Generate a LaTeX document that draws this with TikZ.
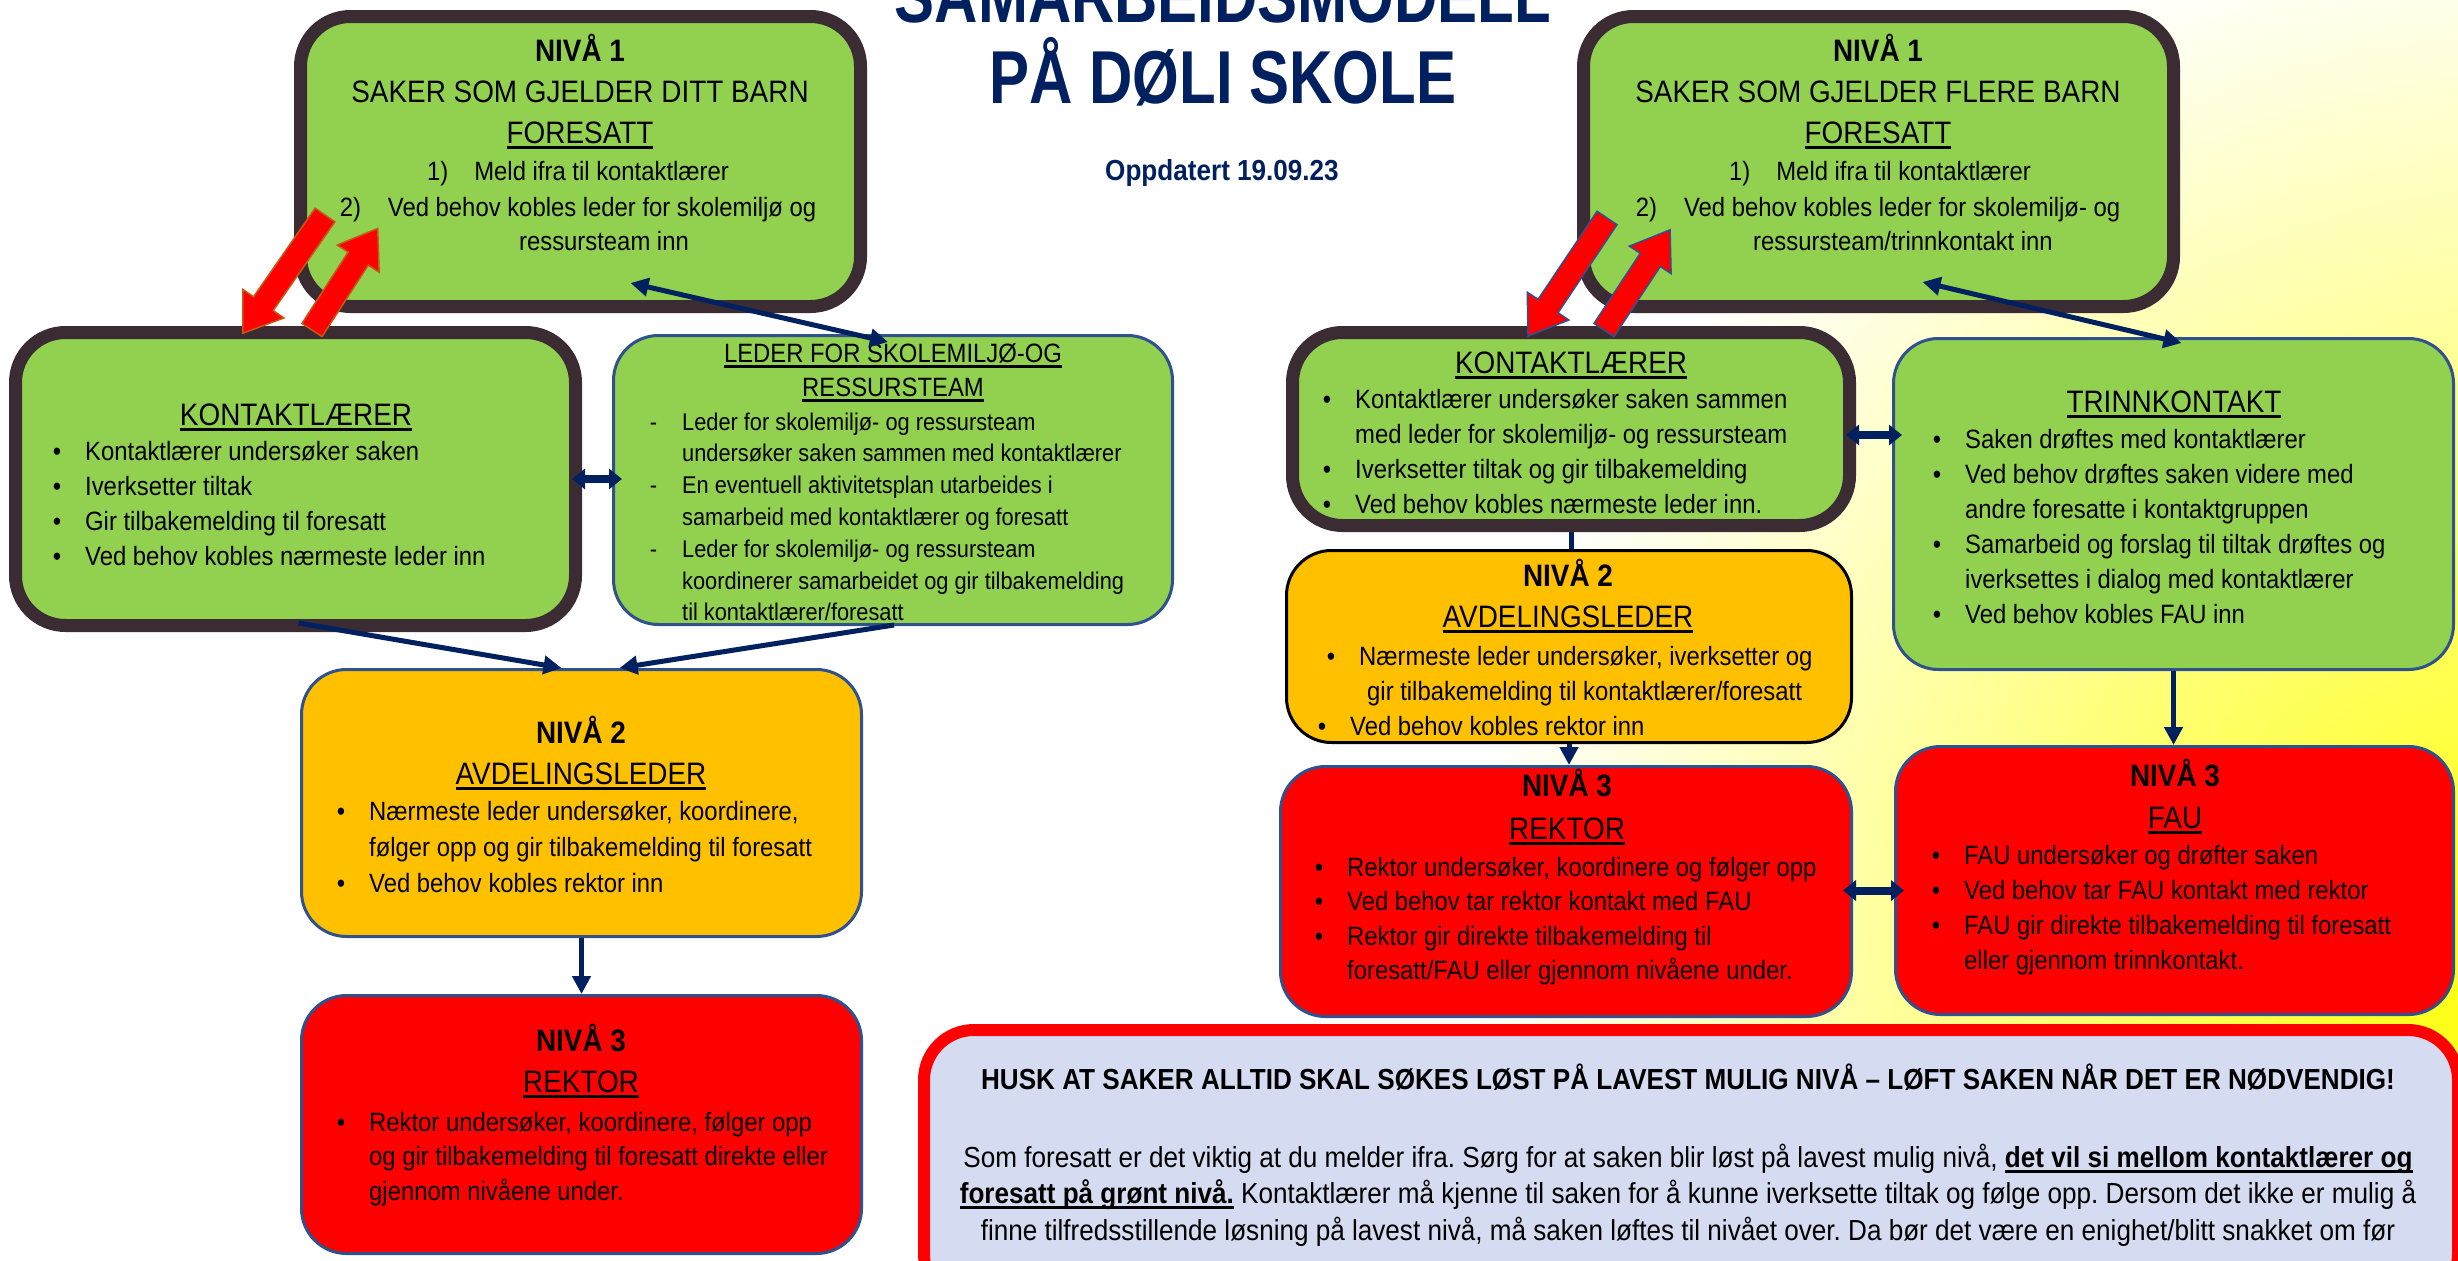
\documentclass[tikz,border=0pt]{standalone}
\usepackage{fontspec}
\setmainfont[FakeStretch=0.9]{Liberation Sans}
\newfontfamily\titlefont[FakeStretch=0.8]{Liberation Sans}
\usetikzlibrary{arrows.meta,calc}
\frenchspacing

\definecolor{boxgreen}{RGB}{146,208,80}
\definecolor{boxorange}{RGB}{255,192,0}
\definecolor{boxred}{RGB}{255,0,0}
\definecolor{darkframe}{RGB}{59,44,52}
\definecolor{blueframe}{RGB}{47,82,143}
\definecolor{navy}{RGB}{0,32,96}
\definecolor{notefill}{RGB}{213,220,241}
\definecolor{rust}{RGB}{197,90,17}

\newcommand{\undl}[1]{\setbox0\hbox{#1}\rlap{\rule[-5.5pt]{\wd0}{2.5pt}}\box0\relax}
\newcommand{\bl}{\llap{\textbullet\hspace{24pt}}}
\newcommand{\dsh}{\llap{-\hspace{25pt}}}
\newcommand{\blockarrow}[4]{%
  \draw[redarrow, #1, shift={(#2)}, rotate=#3] (0,-12) -- ({#4-36},-12) -- ({#4-36},-25) -- (#4,0) -- ({#4-36},25) -- ({#4-36},12) -- (0,12) -- cycle;}

\tikzset{
  thickbox/.style={draw=darkframe, line width=13pt, fill=boxgreen, rounded corners=50pt, inner sep=0pt},
  thinbox/.style={draw=blueframe, line width=3pt, rounded corners=45pt, inner sep=0pt},
  headtxt/.style={font=\fontsize{31}{37}\selectfont, anchor=base, inner sep=0pt},
  boldtxt/.style={font=\fontsize{31}{37}\selectfont\bfseries, anchor=base, inner sep=0pt},
  smallhead/.style={font=\fontsize{26.5}{32}\selectfont, anchor=base, inner sep=0pt},
  bodytxt/.style={font=\fontsize{26.5}{32}\selectfont, anchor=base west, inner sep=0pt},
  notetxt/.style={font=\fontsize{29}{36}\selectfont, anchor=base, inner sep=0pt},
  titletxt/.style={font=\titlefont\fontsize{75}{81}\selectfont\bfseries, text=navy, anchor=base, inner sep=0pt},
  conn/.style={draw=navy, line width=5pt, -{Triangle[length=18pt,width=18pt]}},
  dblconn/.style={draw=navy, line width=8pt, {Triangle[length=13pt,width=20pt]}-{Triangle[length=13pt,width=20pt]}, shorten <=-10pt, shorten >=-10pt},
  redarrow/.style={fill=boxred, line width=1.5pt}
}

\begin{document}
\begin{tikzpicture}[x=1pt,y=1pt,yscale=-1,xscale=1]
\useasboundingbox (0,0) rectangle (2458,1261);
\clip (0,0) rectangle (2458,1261);

%Shape: Background
\fill[white] (0,0) rectangle (2458,1261);
\shade[inner color=yellow, outer color=white] (2560,1000) circle (1100);

% Text Node
\node[titletxt] (title1) at (1223,22) {SAMARBEIDSMODELL};
\node[titletxt] (title2) at (1223,103) {PÅ DØLI SKOLE};
\node[titletxt, font=\fontsize{29}{35}\selectfont\bfseries] (dato) at (1222,180) {Oppdatert 19.09.23};

%Shape: Rounded Rect
\node[thickbox, minimum width=560pt, minimum height=290pt] (boxA) at (580.5,161.5) {};
\node[thickbox, minimum width=590pt, minimum height=290pt] (boxB) at (1878.5,161.5) {};
\node[thickbox, minimum width=560pt, minimum height=293pt] (boxC) at (295.5,479) {};
\node[thinbox, fill=boxgreen, minimum width=559pt, minimum height=289pt] (boxD) at (893,480) {};
\node[thinbox, fill=boxorange, minimum width=560pt, minimum height=267pt] (boxE) at (581.5,803) {};
\node[thinbox, fill=boxred, minimum width=560pt, minimum height=258pt] (boxF) at (581.5,1124.5) {};
\node[thickbox, minimum width=557pt, minimum height=193pt] (boxH) at (1571,429) {};
\node[thinbox, fill=boxgreen, minimum width=560pt, minimum height=331pt] (boxI) at (2173.5,504) {};
\node[thinbox, draw=black, fill=boxorange, minimum width=565pt, minimum height=192pt] (boxJ) at (1569,646.5) {};
\node[thinbox, fill=boxred, minimum width=571pt, minimum height=250pt] (boxK) at (1566,891.5) {};
\node[thinbox, fill=boxred, minimum width=558pt, minimum height=268pt] (boxL) at (2174.5,880.5) {};
\node[draw=boxred, line width=12pt, fill=notefill, rounded corners=50pt, inner sep=0pt, minimum width=1534pt, minimum height=274pt] (note) at (1691,1167) {};

% Text Node
\node[boldtxt] (aniva) at (580,61) {NIVÅ 1};
\node[headtxt] (asaker) at (580,102) {SAKER SOM GJELDER DITT BARN};
\node[headtxt] (afor) at (580,143) {\undl{FORESATT}};
\node[smallhead] (a1) at (578,180) {1)\hspace{26pt}Meld ifra til kontaktlærer};
\node[smallhead] (a2) at (578,216) {2)\hspace{27pt}Ved behov kobles leder for skolemiljø og};
\node[smallhead] (a3) at (604,250) {ressursteam inn};

% Text Node
\node[boldtxt] (bniva) at (1878,61) {NIVÅ 1};
\node[headtxt] (bsaker) at (1878,102) {SAKER SOM GJELDER FLERE BARN};
\node[headtxt] (bfor) at (1878,143) {\undl{FORESATT}};
\node[smallhead] (b1) at (1880,180) {1)\hspace{26pt}Meld ifra til kontaktlærer};
\node[smallhead] (b2) at (1878,216) {2)\hspace{27pt}Ved behov kobles leder for skolemiljø- og};
\node[smallhead] (b3) at (1903,250) {ressursteam/trinnkontakt inn};

% Text Node
\node[headtxt] (chead) at (296,425) {\undl{KONTAKTLÆRER}};
\foreach \txt [count=\i from 0] in {{\bl Kontaktlærer undersøker saken}, {\bl Iverksetter tiltak}, {\bl Gir tilbakemelding til foresatt}, {\bl Ved behov kobles nærmeste leder inn}}
  \node[bodytxt] (c\i) at (85,460+35*\i) {\txt};

% Text Node
\node[smallhead] (dhead1) at (893,362) {\undl{LEDER FOR SKOLEMILJØ-OG}};
\node[smallhead] (dhead2) at (893,396) {\undl{RESSURSTEAM}};
\foreach \txt [count=\i from 0] in {{\dsh Leder for skolemiljø- og ressursteam}, {undersøker saken sammen med kontaktlærer}, {\dsh En eventuell aktivitetsplan utarbeides i}, {samarbeid med kontaktlærer og foresatt}, {\dsh Leder for skolemiljø- og ressursteam}, {koordinerer samarbeidet og gir tilbakemelding}, {til kontaktlærer/foresatt}}
  \node[bodytxt, font=\fontsize{24.2}{30}\selectfont] (d\i) at (682,430+31.8*\i) {\txt};

% Text Node
\node[boldtxt] (eniva) at (581,743) {NIVÅ 2};
\node[headtxt] (ehead) at (581,784) {\undl{AVDELINGSLEDER}};
\foreach \txt [count=\i from 0] in {{\bl Nærmeste leder undersøker, koordinere,}, {følger opp og gir tilbakemelding til foresatt}, {\bl Ved behov kobles rektor inn}}
  \node[bodytxt] (e\i) at (369,820+36*\i) {\txt};

% Text Node
\node[boldtxt] (fniva) at (581,1051) {NIVÅ 3};
\node[headtxt] (fhead) at (581,1092) {\undl{REKTOR}};
\foreach \txt [count=\i from 0] in {{\bl Rektor undersøker, koordinere, følger opp}, {og gir tilbakemelding til foresatt direkte eller}, {gjennom nivåene under.}}
  \node[bodytxt] (f\i) at (369,1131+34.5*\i) {\txt};

% Text Node
\node[headtxt] (hhead) at (1571,373) {\undl{KONTAKTLÆRER}};
\foreach \txt [count=\i from 0] in {{\bl Kontaktlærer undersøker saken sammen}, {med leder for skolemiljø- og ressursteam}, {\bl Iverksetter tiltak og gir tilbakemelding}, {\bl Ved behov kobles nærmeste leder inn.}}
  \node[bodytxt] (h\i) at (1355,408+35*\i) {\txt};

% Text Node
\node[headtxt] (ihead) at (2174,412) {\undl{TRINNKONTAKT}};
\foreach \txt [count=\i from 0] in {{\bl Saken drøftes med kontaktlærer}, {\bl Ved behov drøftes saken videre med}, {andre foresatte i kontaktgruppen}, {\bl Samarbeid og forslag til tiltak drøftes og}, {iverksettes i dialog med kontaktlærer}, {\bl Ved behov kobles FAU inn}}
  \node[bodytxt] (i\i) at (1965,448+35*\i) {\txt};

% Text Node
\node[boldtxt] (jniva) at (1568,586) {NIVÅ 2};
\node[headtxt] (jhead) at (1568,627) {\undl{AVDELINGSLEDER}};
\node[bodytxt] (j0) at (1359,665) {\bl Nærmeste leder undersøker, iverksetter og};
\node[bodytxt] (j1) at (1367,700) {gir tilbakemelding til kontaktlærer/foresatt};
\node[bodytxt] (j2) at (1350,735) {\bl Ved behov kobles rektor inn};

% Text Node
\node[boldtxt] (kniva) at (1567,796) {NIVÅ 3};
\node[headtxt] (khead) at (1567,839) {\undl{REKTOR}};
\foreach \txt [count=\i from 0] in {{\bl Rektor undersøker, koordinere og følger opp}, {\bl Ved behov tar rektor kontakt med FAU}, {\bl Rektor gir direkte tilbakemelding til}, {foresatt/FAU eller gjennom nivåene under.}}
  \node[bodytxt] (k\i) at (1347,876+34.5*\i) {\txt};

% Text Node
\node[boldtxt] (lniva) at (2175,786) {NIVÅ 3};
\node[headtxt] (lhead) at (2175,828) {\undl{FAU}};
\foreach \txt [count=\i from 0] in {{\bl FAU undersøker og drøfter saken}, {\bl Ved behov tar FAU kontakt med rektor}, {\bl FAU gir direkte tilbakemelding til foresatt}, {eller gjennom trinnkontakt.}}
  \node[bodytxt] (l\i) at (1964,864+35.3*\i) {\txt};

% Text Node
\node[notetxt, font=\fontsize{29}{35}\selectfont\bfseries] (notehead) at (1688,1089) {HUSK AT SAKER ALLTID SKAL SØKES LØST PÅ LAVEST MULIG NIVÅ – LØFT SAKEN NÅR DET ER NØDVENDIG!};
\node[notetxt] (note1) at (1688,1167) {Som foresatt er det viktig at du melder ifra. Sørg for at saken blir løst på lavest mulig nivå, \undl{\bfseries det vil si mellom kontaktlærer og}};
\node[notetxt] (note2) at (1688,1203) {\undl{\bfseries foresatt på grønt nivå.} Kontaktlærer må kjenne til saken for å kunne iverksette tiltak og følge opp. Dersom det ikke er mulig å};
\node[notetxt] (note3) at (1688,1240) {finne tilfredsstillende løsning på lavest nivå, må saken løftes til nivået over. Da bør det være en enighet/blitt snakket om før};

%Straight Lines
\draw[conn, {Triangle[length=18pt,width=18pt]}-{Triangle[length=18pt,width=18pt]}] ($(boxA.south)+(50,-30)$) -- ($(boxD.north)+(-5,8)$);
\draw[conn, {Triangle[length=18pt,width=18pt]}-{Triangle[length=18pt,width=18pt]}] ($(boxB.south)+(44,-31)$) -- ($(boxI.north)+(8,6)$);
\draw[conn] ($(boxC.south)+(3,-9)$) -- ($(boxE.north)+(-20,0)$);
\draw[conn] ($(boxD.south)+(1,-1)$) -- ($(boxE.north)+(38,0)$);
\draw[conn] (boxE.south) -- (boxF.north);
\draw[draw=navy, line width=5pt] (boxH.south) -- (boxH.south |- boxJ.north);
\draw[conn] (boxJ.south) -- (boxJ.south |- boxK.north);
\draw[conn] (boxI.south) -- (boxI.south |- boxL.north);
\draw[dblconn] (boxC.east) -- (boxC.east -| boxD.west);
\draw[dblconn] ($(boxH.east)+(0,6)$) coordinate (hi) -- (hi -| boxI.west);
\draw[dblconn] ($(boxK.east)+(0,-1)$) coordinate (ki) -- (ki -| boxL.west);

%Shape: Block Arrows
\blockarrow{draw=rust}{325,215}{124.8}{144}
\blockarrow{draw=rust}{312,330}{302.9}{121}
\blockarrow{draw=blueframe}{1607,218}{123.8}{142}
\blockarrow{draw=blueframe}{1604,330}{303.4}{120}

\end{tikzpicture}
\end{document}
